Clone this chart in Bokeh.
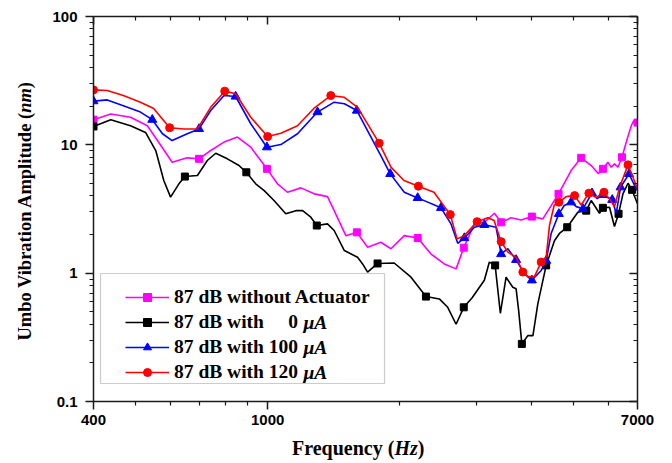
from bokeh.plotting import figure
from bokeh.models import (Range1d, FixedTicker, CustomJSTickFormatter, Legend, LegendItem,
                          Label, BoxAnnotation, ColumnDataSource, LogAxis, Div)
from bokeh.layouts import row, column
from bokeh.embed import file_html
from bokeh.resources import INLINE

# ---------------- data ----------------
mag_f = [400, 438, 486, 531, 560, 605, 655, 697, 741, 795, 853, 915, 996, 1053, 1110, 1191, 1277, 1370,
         1419, 1509, 1599, 1692, 1814, 1913, 2052, 2202, 2362, 2533, 2695, 2806, 2968, 3127, 3297, 3416,
         3600, 3795, 4015, 4255, 4620, 4936, 5205, 5487, 5692, 5835, 5990, 6096, 6201, 6316, 6451, 6635,
         6775, 6870, 7000]
mag_v = [15.7, 17.4, 16.4, 14.1, 10.8, 7.32, 7.92, 7.78, 9.03, 10.5, 11.5, 9.58, 6.50, 4.97, 4.27, 4.62,
         4.15, 3.95, 3.07, 1.96, 2.08, 1.59, 1.74, 1.55, 1.96, 1.88, 1.41, 1.18, 1.08, 1.58, 2.42, 2.49,
         2.93, 2.49, 2.70, 2.60, 2.76, 2.65, 4.15, 6.30, 7.92, 6.90, 5.97, 6.50, 7.32, 6.69, 7.11, 6.69,
         8.00, 11.2, 14.1, 15.5, 14.9]
mag_marks = [0, 7, 12, 20, 25, 29, 33, 36, 38, 40, 43, 48, 52]

blk_f = [400, 438, 486, 526, 555, 579, 600, 627, 647, 691, 728, 761, 809, 860, 894, 939, 982, 1034, 1100,
         1160, 1202, 1255, 1295, 1370, 1419, 1497, 1605, 1648, 1692, 1783, 1946, 2126, 2300, 2468, 2579,
         2695, 2806, 2930, 3127, 3211, 3310, 3402, 3506, 3632, 3696, 3746, 3809, 3931, 4038, 4143, 4329,
         4522, 4643, 4836, 5114, 5345, 5487, 5731, 5835, 6042, 6201, 6336, 6484, 6659, 6800, 7000]
blk_v = [13.9, 15.7, 14.1, 12.5, 9.03, 5.27, 3.91, 4.97, 5.66, 5.77, 7.55, 8.60, 7.78, 6.90, 6.11, 4.97,
         4.40, 3.68, 2.90, 3.07, 3.07, 2.73, 2.35, 2.42, 2.15, 1.50, 1.33, 1.18, 1.02, 1.19, 1.20, 0.93,
         0.657, 0.63, 0.542, 0.40, 0.542, 0.64, 0.88, 1.22, 1.15, 0.487, 0.93, 0.776, 0.755, 0.511, 0.281,
         0.326, 0.326, 0.576, 1.15, 1.79, 2.04, 2.28, 2.98, 3.07, 3.68, 2.93, 3.23, 3.26, 2.31, 2.90,
         4.15, 5.02, 4.46, 3.47]
blk_marks = [0, 8, 14, 22, 29, 32, 36, 40, 46, 50, 53, 55, 58, 61, 64]

blu_f = [400, 430, 468, 512, 545, 575, 605, 655, 697, 741, 795, 845, 915, 996, 1072, 1170, 1300, 1419,
         1497, 1599, 1814, 1906, 2052, 2202, 2489, 2624, 2719, 2815, 2968, 3127, 3326, 3416, 3538, 3696,
         3862, 4015, 4217, 4329, 4444, 4628, 4761, 4936, 5072, 5252, 5509, 5664, 5815, 6128, 6259, 6403,
         6695, 6892, 7000]
blu_v = [21.9, 22.4, 20.2, 18.0, 15.7, 12.2, 10.8, 12.2, 13.3, 18.5, 24.2, 23.8, 14.6, 9.58, 10.05,
         12.2, 18.0, 21.5, 20.9, 18.5, 8.25, 5.94, 4.27, 3.86, 3.23, 2.42, 1.71, 1.88, 2.28, 2.38, 2.28,
         1.41, 1.55, 1.27, 0.99, 0.88, 1.05, 1.25, 2.04, 2.90, 3.37, 3.57, 3.30, 3.17, 4.20, 3.81, 4.08,
         3.73, 2.92, 4.67, 5.94, 4.82, 4.40]
blu_marks = [0, 4, 8, 11, 13, 16, 19, 21, 23, 24, 27, 29, 31, 33, 35, 37, 39, 41, 43, 44, 46, 47, 49, 50]

red_f = [400, 430, 468, 512, 549, 597, 643, 691, 741, 798, 845, 915, 1000, 1072, 1170, 1275, 1394, 1494,
         1605, 1798, 1913, 2049, 2210, 2399, 2614, 2709, 2815, 3010, 3184, 3291, 3416, 3538, 3696, 3829,
         3931, 4070, 4217, 4329, 4405, 4514, 4628, 4810, 5028, 5205, 5420, 5633, 5868, 6042, 6201, 6371,
         6659, 6834, 7000]
red_v = [26.8, 26.5, 24.2, 21.5, 19.2, 13.6, 13.3, 13.3, 19.6, 26.2, 25.0, 16.4, 11.6, 12.3, 14.1, 19.2,
         24.2, 23.5, 19.6, 10.3, 6.7, 5.27, 4.76, 4.27, 2.86, 1.85, 1.96, 2.52, 2.70, 2.57, 1.76, 1.46,
         1.33, 1.02, 0.94, 0.94, 1.22, 1.33, 2.35, 3.37, 3.57, 3.95, 4.02, 3.40, 4.20, 3.88, 4.27, 3.79,
         3.30, 4.67, 6.98, 5.59, 4.54]
red_marks = [0, 5, 9, 12, 16, 19, 22, 24, 27, 30, 33, 36, 40, 42, 44, 46, 50]

x_major = [400, 1000, 7000]
x_minor = [500, 600, 700, 800, 900, 2000, 3000, 4000, 5000, 6000]
y_major = [0.1, 1, 10, 100]
y_minor = [0.2, 0.3, 0.4, 0.5, 0.6, 0.7, 0.8, 0.9, 2, 3, 4, 5, 6, 7, 8, 9,
           20, 30, 40, 50, 60, 70, 80, 90]

series = [
    ("87 dB without Actuator", mag_f, mag_v, mag_marks, "#FF00FF", "square", 7),
    ("87 dB with\u00a0\u00a0\u00a0\u00a0\u00a00", blk_f, blk_v, blk_marks, "#000000", "square", 7),
    ("87 dB with 100", blu_f, blu_v, blu_marks, "#0000FF", "triangle", 9),
    ("87 dB with 120", red_f, red_v, red_marks, "#FF0000", "circle", 8),
]

# ---------------- figure ----------------
p = figure(width=632, height=432, x_axis_type="log", y_axis_type="log",
           x_range=Range1d(400, 7000), y_range=Range1d(0.1, 100),
           output_backend="svg", toolbar_location=None,
           min_border_left=53, min_border_right=35, min_border_top=16, min_border_bottom=31)
p.grid.visible = False
p.outline_line_color = None
p.background_fill_color = "white"
p.border_fill_color = "white"

fmt = CustomJSTickFormatter(code="return tick.toString();")
AX = "#1a1a1a"


def style_axis(ax, ticker, inside, labels):
    ax.ticker = ticker
    ax.axis_line_color = AX
    ax.axis_line_width = 1.5
    ax.major_tick_line_color = AX
    ax.minor_tick_line_color = AX
    ax.major_tick_line_width = 1.5
    ax.minor_tick_line_width = 1.2
    if inside:
        ax.major_tick_in, ax.major_tick_out = 8, 0
        ax.minor_tick_in, ax.minor_tick_out = 4, 0
    else:
        ax.major_tick_in, ax.major_tick_out = 0, 8
        ax.minor_tick_in, ax.minor_tick_out = 0, 4
    if labels:
        ax.formatter = fmt
        ax.major_label_text_font = "Liberation Sans"
        ax.major_label_text_font_style = "bold"
        ax.major_label_text_font_size = "15px"
        ax.major_label_text_color = "black"
    else:
        ax.formatter = CustomJSTickFormatter(code="return '';")
        ax.major_label_text_font_size = "0px"
        ax.major_label_standoff = 0


xt = FixedTicker(ticks=x_major, minor_ticks=x_minor)
yt = FixedTicker(ticks=y_major, minor_ticks=y_minor)
style_axis(p.xaxis[0], xt, False, True)
style_axis(p.yaxis[0], yt, False, True)
p.xaxis[0].major_label_standoff = 5
p.yaxis[0].major_label_standoff = 8

top = LogAxis()
right = LogAxis()
style_axis(top, FixedTicker(ticks=x_major, minor_ticks=x_minor), True, False)
style_axis(right, FixedTicker(ticks=y_major, minor_ticks=y_minor), True, False)
p.add_layout(top, "above")
p.add_layout(right, "right")

items = []
for label, f, v, marks, color, marker, size in series:
    src = ColumnDataSource(data=dict(x=f, y=v))
    msrc = ColumnDataSource(data=dict(x=[f[i] for i in marks], y=[v[i] for i in marks]))
    lr = p.line("x", "y", source=src, line_color=color, line_width=1.6)
    sr = p.scatter("x", "y", source=msrc, marker=marker, size=size,
                   fill_color=color, line_color=color)
    items.append(LegendItem(label=label, renderers=[lr, sr]))

legend = Legend(items=items, location=(32, 18), orientation="vertical", padding=0, spacing=3,
                margin=0, glyph_width=44, glyph_height=20, label_height=20, label_standoff=5,
                label_text_font="Liberation Serif", label_text_font_style="bold",
                label_text_font_size="19.5px", label_text_color="black",
                border_line_alpha=0, background_fill_alpha=0)
p.add_layout(legend)

box = BoxAnnotation(left=7, right=291, top=128, bottom=18,
                    left_units="screen", right_units="screen", top_units="screen",
                    bottom_units="screen", fill_alpha=0, line_color="#555555", line_width=1.2)
p.add_layout(box)

serif = "Liberation Serif"
for yy in (79.3, 54.3, 29.3):
    p.add_layout(Label(x=210, y=yy, x_units="screen", y_units="screen", text="\u03bcA",
                       text_font=serif, text_font_style="bold italic", text_font_size="19.5px",
                       text_baseline="middle", text_align="left", text_color="black"))

# axis titles as HTML so that the unit can be italic
ytitle = Div(
    text=("<div style=\"margin-left:14px; margin-top:82px; writing-mode:vertical-rl; "
          "transform:rotate(180deg); white-space:nowrap; font-family:'Liberation Serif'; "
          "font-weight:bold; font-size:18.5px; color:black; line-height:22px;\">"
          "Umbo Vibration Amplitude (<i>nm</i>)</div>"),
    width=40, height=432, margin=0)
xtitle = Div(
    text=("<div style=\"margin-left:292px; margin-top:4px; white-space:nowrap; "
          "font-family:'Liberation Serif'; font-weight:bold; font-size:20px; color:black; "
          "line-height:24px;\">Frequency (<i>Hz</i>)</div>"),
    width=672, height=31, margin=0)

layout = column(row(ytitle, p, spacing=0), xtitle, spacing=0)

open("out.html", "w").write(file_html(layout, INLINE))
